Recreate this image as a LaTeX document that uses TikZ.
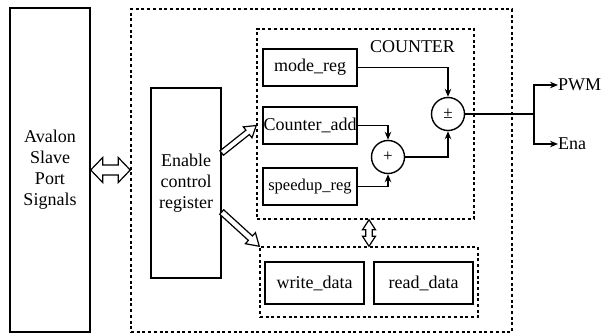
\documentclass[tikz,border=0pt]{standalone}
\usepackage{fontspec}
\setmainfont{Liberation Serif}
\usetikzlibrary{arrows.meta,calc}
\tikzset{
  box/.style={draw, line width=1.4bp, inner sep=0pt, align=center, font=\fontsize{18bp}{21bp}\selectfont},
  dbox/.style={draw, line width=1.5bp, dash pattern=on 3bp off 2.7bp, inner sep=0pt},
  sumop/.style={draw, circle, line width=1.4bp, minimum size=33bp, inner sep=0pt, font=\fontsize{17bp}{20bp}\selectfont},
  sig/.style={line width=1.4bp, -{Stealth[length=8bp,width=6.5bp]}},
  plain/.style={line width=1.4bp},
  busline/.style={draw, line width=1.2bp, fill=white, line join=miter},
  lbl/.style={inner sep=0pt, font=\fontsize{18bp}{21bp}\selectfont},
}
% #1 from, #2 to, #3 head length, #4 head half width, #5 shaft half width (pt)
\newcommand\onebus[5]{%
  \path[busline] let \p1=(#1), \p2=(#2),
    \n1={atan2(\y2-\y1,\x2-\x1)}, \n2={veclen(\x2-\x1,\y2-\y1)} in
    ($(\p1)+(\n1+90:#5pt)$)
    -- ($(\p1)+(\n1:{(\n2-#3)*1pt})+(\n1+90:#5pt)$)
    -- ($(\p1)+(\n1:{(\n2-#3)*1pt})+(\n1+90:#4pt)$)
    -- (\p2)
    -- ($(\p1)+(\n1:{(\n2-#3)*1pt})+(\n1-90:#4pt)$)
    -- ($(\p1)+(\n1:{(\n2-#3)*1pt})+(\n1-90:#5pt)$)
    -- ($(\p1)+(\n1-90:#5pt)$) -- cycle;}
\newcommand\twobus[5]{%
  \path[busline] let \p1=(#1), \p2=(#2),
    \n1={atan2(\y2-\y1,\x2-\x1)}, \n2={veclen(\x2-\x1,\y2-\y1)} in
    (\p1)
    -- ($(\p1)+(\n1:#3pt)+(\n1+90:#4pt)$)
    -- ($(\p1)+(\n1:#3pt)+(\n1+90:#5pt)$)
    -- ($(\p1)+(\n1:{(\n2-#3)*1pt})+(\n1+90:#5pt)$)
    -- ($(\p1)+(\n1:{(\n2-#3)*1pt})+(\n1+90:#4pt)$)
    -- (\p2)
    -- ($(\p1)+(\n1:{(\n2-#3)*1pt})+(\n1-90:#4pt)$)
    -- ($(\p1)+(\n1:{(\n2-#3)*1pt})+(\n1-90:#5pt)$)
    -- ($(\p1)+(\n1:#3pt)+(\n1-90:#5pt)$)
    -- ($(\p1)+(\n1:#3pt)+(\n1-90:#4pt)$) -- cycle;}
\begin{document}
\begin{tikzpicture}[x=1bp,y=-1bp]
\useasboundingbox (0,0) rectangle (603,334);
% frames
\node[dbox, minimum width=381bp, minimum height=323bp] (outer) at (321.5,170.5) {};
\node[dbox, minimum width=217bp, minimum height=190bp] (counter) at (365.5,124) {};
\node[dbox, minimum width=218bp, minimum height=70bp] (data) at (369,282) {};
% blocks
\node[box, minimum width=80bp, minimum height=324bp] (avalon) at (50,170) {Avalon\\Slave\\Port\\Signals};
\node[box, minimum width=70bp, minimum height=190bp] (enable) at (186,183) {Enable\\control\\register};
\node[box, minimum width=94bp, minimum height=37bp] (modereg) at (310,67.5) {mode\_reg};
\node[box, minimum width=94bp, minimum height=37bp] (cadd) at (310,125.5) {Counter\_add};
\node[box, minimum width=94bp, minimum height=37bp, font=\fontsize{16.5bp}{20bp}\selectfont] (speedup) at (310,186.5) {speedup\_reg};
\node[box, minimum width=99bp, minimum height=42bp] (wdata) at (314.5,283) {write\_data};
\node[box, minimum width=99bp, minimum height=42bp] (rdata) at (423.5,283) {read\_data};
\node[lbl, anchor=base] (title) at (412.5,52) {COUNTER};
% operators
\node[sumop] (pm) at (448,114) {±};
\node[sumop] (plus) at (388,157) {+};
% outputs
\coordinate (split) at (534,114);
\node[lbl, anchor=west] (pwm) at (558,85) {PWM};
\node[lbl, anchor=west] (ena) at (558,144) {Ena};
% signal connectors
\draw[sig] (modereg.east) -| (pm.north);
\draw[sig] (cadd.east) -| (plus.north);
\draw[sig] (speedup.east) -| (plus.south);
\draw[sig] (plus.east) -| (pm.south);
\draw[plain] (pm.east) -- (split);
\draw[sig] (split) |- (pwm.west);
\draw[sig] (split) |- (ena.west);
% hollow bus arrows
\coordinate (avout) at (avalon.east -| outer.west);
\twobus{avalon.east}{avout}{12}{12.5}{5}
\path (wdata.east) -- (rdata.west) coordinate[midway] (mid);
\coordinate (cbot) at (mid |- counter.south);
\coordinate (dtop) at (mid |- data.north);
\twobus{cbot}{dtop}{10}{6.5}{3.2}
\coordinate (en1) at ($(enable.east)+(0,-30)$);
\coordinate (cin) at (counter.west |- cadd.east);
\onebus{en1}{cin}{11}{7}{2.8}
\coordinate (en2) at ($(enable.east)+(0,29)$);
\onebus{en2}{data.north west}{12}{7.5}{3}
\end{tikzpicture}
\end{document}
